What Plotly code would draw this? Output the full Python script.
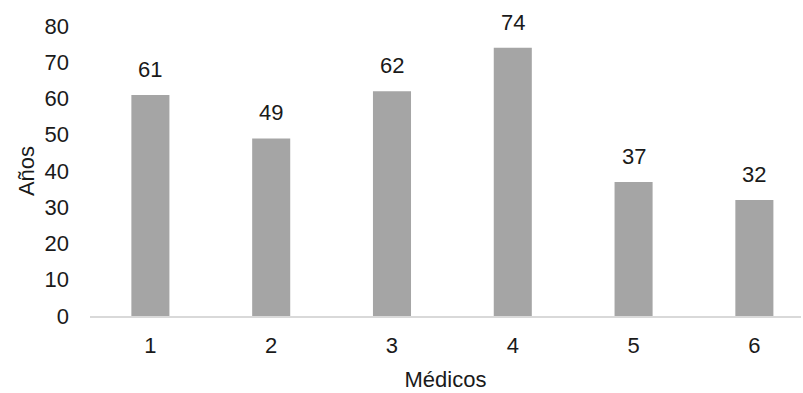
import plotly.graph_objects as go

medicos = [1, 2, 3, 4, 5, 6]
anios = [61, 49, 62, 74, 37, 32]
y_ticks = [0, 10, 20, 30, 40, 50, 60, 70, 80]

FONT = "Liberation Sans, Arial, sans-serif"
TXT = "#1a1a1a"
FS = 22

fig = go.Figure(
    go.Bar(
        x=medicos,
        y=anios,
        width=0.315,
        marker=dict(color="#a5a5a5", line=dict(width=0)),
        hoverinfo="skip",
    )
)

for m, v in zip(medicos, anios):
    fig.add_annotation(
        x=m, y=v, text=str(v), showarrow=False,
        yanchor="bottom", yshift=11,
        font=dict(family=FONT, size=FS, color=TXT),
    )

fig.update_layout(
    width=803, height=393,
    margin=dict(l=90, r=2, t=26, b=77),
    plot_bgcolor="white", paper_bgcolor="white",
    showlegend=False,
    font=dict(family=FONT, size=FS, color=TXT),
    xaxis=dict(
        range=[0.5, 6.386],
        tickvals=medicos,
        ticktext=[str(m) for m in medicos],
        showgrid=False, zeroline=False,
        showline=True, linecolor="#d9d9d9", linewidth=1.5,
        ticks="", ticklabelstandoff=9,
        title=dict(text="Médicos", font=dict(size=FS), standoff=14),
    ),
    yaxis=dict(
        range=[0, 80],
        tickvals=y_ticks,
        showgrid=False, zeroline=False, showline=False,
        ticks="", ticklabelstandoff=20,
        title=dict(text="Años", font=dict(size=FS), standoff=3),
    ),
)

fig.write_html("out.html")
